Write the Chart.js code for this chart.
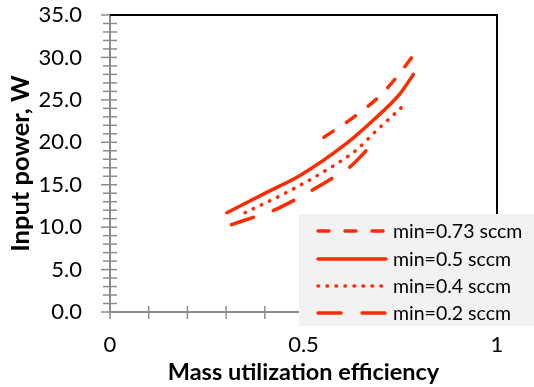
<!DOCTYPE html>
<html>
<head>
<meta charset="utf-8">
<script src="https://cdn.jsdelivr.net/npm/chart.js@4.4.1/dist/chart.umd.min.js"></script>
<style>
  html, body { margin: 0; padding: 0; background: #fff; }
  #wrap { width: 534px; height: 387px; }
</style>
</head>
<body>
<div id="wrap"><canvas id="chart" width="534" height="387"></canvas></div>
<script>
// values
const labels = ['min=0.73 sccm', 'min=0.5 sccm', 'min=0.4 sccm', 'min=0.2 sccm'];

const x073 = [0.553, 0.637, 0.698, 0.741, 0.788];
const y073 = [20.6, 23.2, 25.5, 27.7, 30.5];

const x05 = [0.302, 0.405, 0.491, 0.612, 0.680, 0.749, 0.784];
const y05 = [11.7, 14.1, 16.1, 19.9, 22.6, 25.7, 28.0];

const x04 = [0.349, 0.457, 0.551, 0.637, 0.689, 0.732, 0.758];
const y04 = [11.7, 14.1, 16.5, 19.1, 21.4, 23.2, 24.3];

const x02 = [0.314, 0.386, 0.424, 0.489, 0.524, 0.586, 0.620, 0.672];
const y02 = [10.3, 11.4, 12.0, 13.5, 14.4, 16.1, 17.1, 19.5];

const xTickLabels = ['0', '0.5', '1'];

const red = '#ff2a00';
const font = 'Lato, "Open Sans", sans-serif';

function pts(xs, ys) {
    return xs.map((x, i) => ({ x: x, y: ys[i] }));
}

function series(label, xs, ys, dash) {
    return {
        label: label,
        data: pts(xs, ys),
        showLine: true,
        borderColor: red,
        backgroundColor: red,
        borderWidth: 3.5,
        borderDash: dash,
        borderCapStyle: 'round',
        pointRadius: 0,
        cubicInterpolationMode: 'monotone'
    };
}

// top/right frame, crossing tick marks and the legend box
const framePlugin = {
    id: 'frame',
    afterDraw(chart) {
        const ctx = chart.ctx;
        const a = chart.chartArea;
        const xs = chart.scales.x, ys = chart.scales.y;
        ctx.save();

        // tick marks crossing the axes
        ctx.strokeStyle = '#8c8c8c';
        ctx.lineWidth = 1.5;
        ys.ticks.forEach(t => {
            const py = ys.getPixelForValue(t.value);
            const major = Math.abs(t.value % 5) < 1e-6;
            ctx.beginPath();
            ctx.moveTo(a.left - (major ? 9 : 7), py);
            ctx.lineTo(a.left + 7, py);
            ctx.stroke();
        });
        xs.ticks.forEach(t => {
            const px = xs.getPixelForValue(t.value);
            ctx.beginPath();
            ctx.moveTo(px, a.bottom - 6);
            ctx.lineTo(px, a.bottom + 7);
            ctx.stroke();
        });

        // black frame top and right
        ctx.strokeStyle = '#000';
        ctx.lineWidth = 2;
        ctx.beginPath();
        ctx.moveTo(a.left, a.top);
        ctx.lineTo(a.right, a.top);
        ctx.lineTo(a.right, a.bottom);
        ctx.stroke();

        // legend
        const bx = 299, by = 214;
        ctx.fillStyle = '#f2f2f2';
        ctx.fillRect(bx, by, chart.width - bx, 112);
        const rows = [231, 259, 286, 313];
        chart.data.datasets.forEach((ds, i) => {
            const y = rows[i];
            ctx.strokeStyle = ds.borderColor;
            ctx.lineWidth = ds.borderWidth;
            ctx.lineCap = 'round';
            ctx.setLineDash(ds.borderDash || []);
            ctx.beginPath();
            ctx.moveTo(318, y);
            ctx.lineTo(386, y);
            ctx.stroke();
            ctx.setLineDash([]);
            ctx.fillStyle = '#000';
            ctx.font = '19.5px ' + font;
            ctx.textBaseline = 'middle';
            ctx.textAlign = 'left';
            ctx.fillText(ds.label, 393, y + 1);
        });
        ctx.restore();
    }
};

new Chart(document.getElementById('chart'), {
    type: 'scatter',
    data: {
        datasets: [
            series(labels[0], x073, y073, [11, 16]),
            series(labels[1], x05, y05, []),
            series(labels[2], x04, y04, [0.5, 8.5]),
            series(labels[3], x02, y02, [23, 21])
        ]
    },
    options: {
        responsive: false,
        animation: false,
        layout: { padding: { top: 15, right: 37, left: 0, bottom: 0 } },
        plugins: { legend: { display: false }, tooltip: { enabled: false } },
        scales: {
            x: {
                type: 'linear',
                min: 0, max: 1,
                grid: { display: false, drawTicks: false },
                border: { color: '#8c8c8c', width: 2 },
                ticks: {
                    stepSize: 0.1,
                    autoSkip: false,
                    maxRotation: 0,
                    padding: 20,
                    color: '#000',
                    font: { family: font, size: 22 },
                    callback: v => {
                        const r = Math.round(v * 10);
                        if (r === 0) return xTickLabels[0];
                        if (r === 5) return xTickLabels[1];
                        if (r === 10) return xTickLabels[2];
                        return '';
                    }
                },
                title: {
                    display: true,
                    text: 'Mass utilization efficiency',
                    color: '#000',
                    font: { family: font, size: 23.5, weight: 'bold' },
                    padding: { top: 0, bottom: 0 }
                },
                afterFit: s => {
                    s.height = 387 - 312;
                    s.paddingLeft = 0;
                    s.paddingRight = 0;
                }
            },
            y: {
                min: 0, max: 35,
                grid: { display: false, drawTicks: false },
                border: { color: '#8c8c8c', width: 2 },
                ticks: {
                    stepSize: 1,
                    autoSkip: false,
                    padding: 28,
                    color: '#000',
                    font: { family: font, size: 22 },
                    callback: v => (v % 5 === 0 ? v.toFixed(1) : '')
                },
                title: {
                    display: true,
                    text: 'Input power, W',
                    color: '#000',
                    font: { family: font, size: 25.5, weight: 'bold' },
                    padding: { top: 5, bottom: 0 }
                },
                afterFit: s => {
                    s.width = 110;
                    s.paddingTop = 0;
                    s.paddingBottom = 0;
                }
            }
        }
    },
    plugins: [framePlugin]
});
</script>
</body>
</html>
